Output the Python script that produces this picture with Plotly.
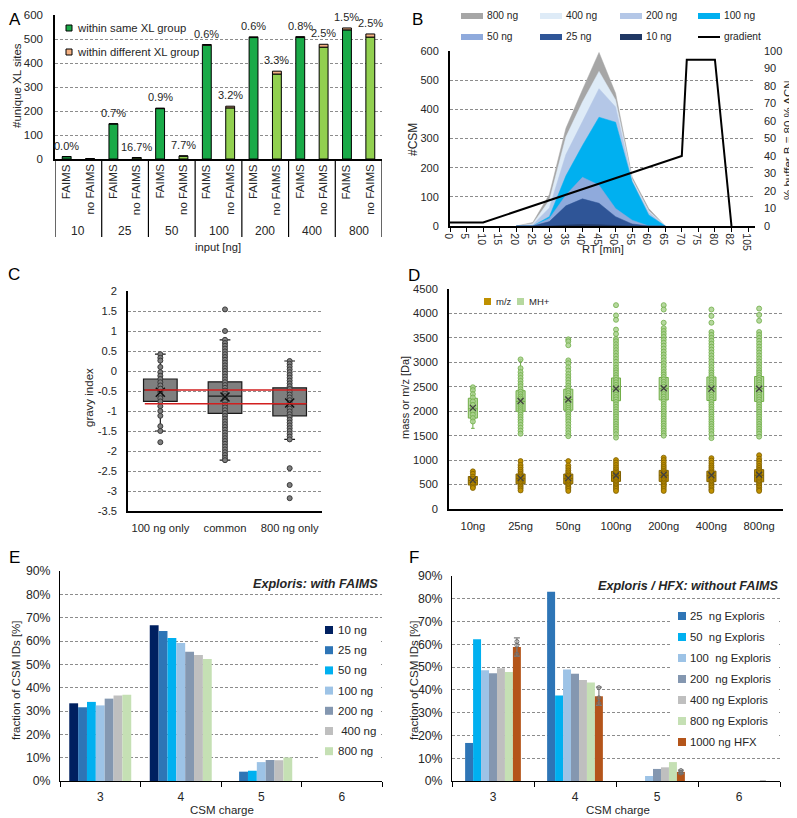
import plotly.graph_objects as go

FONT = "Liberation Sans, Arial, sans-serif"
OFF = 8                      # the html page places the figure 8 px from the window corner
W, H = 797 - OFF, 818 - OFF
TXT = "#262626"
GRID = "#8c8c8c"


def px_x(p):
    return (p - OFF) / W


def px_y(p):
    return 1 - (p - OFF) / H


# ---------------- Panel A data ----------------
a_inputs = ["10", "25", "50", "100", "200", "400", "800"]
a_methods = ["FAIMS", "no FAIMS"]
a_same_faims = [10, 146, 210, 474, 506, 506, 538]
a_diff_faims = [0, 1, 2, 3, 3, 4, 8]
a_same_nofaims = [1, 5, 12, 213, 354, 466, 508]
a_diff_nofaims = [0, 1, 1, 7, 12, 12, 13]
a_legend = ["within same XL group", "within different XL group"]
a_colors_method = ["#1AAA48", "#92D050"]
a_color_diff = "#F4B183"

# ---------------- Panel B data ----------------
b_rt = [20, 25, 30, 35, 40, 45, 50, 55, 60, 65]
b_series = ["800 ng", "400 ng", "200 ng", "100 ng", "50 ng", "25 ng", "10 ng"]
b_values = [
    [0, 12, 108, 335, 467, 595, 455, 168, 60, 0],
    [0, 8, 88, 305, 425, 530, 432, 160, 52, 0],
    [0, 4, 62, 245, 358, 471, 408, 155, 47, 0],
    [0, 0, 32, 172, 276, 373, 356, 152, 38, 0],
    [0, 0, 26, 106, 167, 140, 60, 20, 0, 0],
    [0, 0, 15, 69, 93, 78, 32, 7, 0, 0],
    [0, 0, 0, 3, 5, 4, 1, 0, 0, 0],
]
b_colors = ["#A6A6A6", "#DEEBF7", "#B4C7E7", "#00B0F0", "#8FAADC", "#2F5597", "#203864"]
b_tick_rt = [0, 5, 10, 15, 20, 25, 30, 35, 40, 45, 50, 55, 60, 65, 70, 75, 80, 82, 105]
b_grad_name = "gradient"
b_grad_rt = [0, 10, 70, 71.5, 80, 82]
b_grad_pct = [2, 2, 40, 95, 95, 0]

# ---------------- Panel C data ----------------
c_cats = ["100 ng only", "common", "800 ng only"]
c_q1 = [-0.76, -1.06, -1.12]
c_median = [-0.475, -0.63, -0.82]
c_q3 = [-0.2, -0.27, -0.42]
c_lower = [-1.5, -2.23, -1.71]
c_upper = [0.42, 0.78, 0.25]
c_mean = [-0.53, -0.65, -0.8]
c_ref_lines = [-0.475, -0.817]
c_pts = [
    [0.42, 0.33, 0.26, 0.1, -0.03, -0.12, -0.2, -0.28, -0.36, -0.44, -0.52, -0.6,
     -0.68, -0.76, -0.88, -1.0, -1.12, -1.38, -1.5, -1.78],
    [1.54, 1.0, 0.78, 0.7, 0.63, 0.56, 0.49, 0.42, 0.35, 0.28, 0.21, 0.14, 0.07, 0.0,
     -0.07, -0.14, -0.21, -0.28, -0.35, -0.42, -0.49, -0.56, -0.63, -0.7, -0.77, -0.84,
     -0.91, -0.98, -1.05, -1.12, -1.19, -1.26, -1.33, -1.4, -1.47, -1.54, -1.61, -1.68,
     -1.75, -1.82, -1.89, -1.96, -2.03, -2.1, -2.17, -2.23],
    [0.25, 0.18, 0.11, 0.04, -0.03, -0.1, -0.17, -0.24, -0.31, -0.38, -0.45, -0.52,
     -0.59, -0.66, -0.73, -0.8, -0.87, -0.94, -1.01, -1.08, -1.15, -1.22, -1.29, -1.36,
     -1.43, -1.5, -1.57, -1.64, -1.71, -2.43, -2.85, -3.18],
]
c_ticks = [2, 1.5, 1, 0.5, 0, -0.5, -1, -1.5, -2, -2.5, -3, -3.5]

# ---------------- Panel D data ----------------
d_cats = ["10ng", "25ng", "50ng", "100ng", "200ng", "400ng", "800ng"]
d_mh_q1 = [1860, 2000, 2020, 2215, 2230, 2220, 2200]
d_mh_median = [2050, 2200, 2240, 2450, 2460, 2460, 2460]
d_mh_q3 = [2265, 2420, 2450, 2680, 2690, 2700, 2710]
d_mh_lower = [1650, 1540, 1490, 1460, 1500, 1450, 1480]
d_mh_upper = [2490, 3060, 3050, 3480, 3700, 3620, 3620]
d_mh_mean = [2070, 2210, 2240, 2460, 2470, 2460, 2460]
d_mz_q1 = [490, 515, 515, 565, 565, 560, 555]
d_mz_median = [580, 620, 620, 680, 690, 680, 690]
d_mz_q3 = [665, 715, 715, 770, 790, 775, 805]
d_mz_lower = [430, 370, 370, 370, 370, 370, 370]
d_mz_upper = [770, 980, 980, 1000, 1050, 1040, 1100]
d_mz_mean = [590, 630, 630, 685, 700, 690, 700]
d_mh_pts = [
    [2490, 2430, 2350, 2280, 2200, 2130, 2060, 1990, 1930, 1860, 1790],
    [3060, 2880, 2800, 2740, 2680, 2620, 2560, 2510, 2450, 2400, 2350, 2300, 2260, 2220,
     2180, 2140, 2100, 2060, 2020, 1980, 1930, 1880, 1830, 1780, 1720, 1660, 1600, 1540],
    [3470, 3430, 3350, 3040, 2980, 2900, 2830, 2760, 2700, 2640, 2580, 2520, 2470, 2420,
     2370, 2320, 2270, 2230, 2190, 2150, 2110, 2070, 2030, 1990, 1940, 1890, 1840, 1790,
     1730, 1670, 1610, 1550, 1490],
    [4170, 3960, 3870, 3670, 3580, 3480, 3430, 3370, 3310, 3250, 3190, 3130, 3070, 3010,
     2950, 2890, 2840, 2790, 2740, 2690, 2640, 2590, 2540, 2490, 2440, 2390, 2340, 2290,
     2240, 2190, 2140, 2090, 2040, 1990, 1940, 1890, 1840, 1790, 1740, 1690, 1640, 1590,
     1530, 1460],
    [4170, 4080, 3810, 3700, 3640, 3580, 3520, 3460, 3400, 3340, 3280, 3220, 3160, 3100,
     3040, 2980, 2920, 2860, 2800, 2750, 2700, 2650, 2600, 2550, 2500, 2450, 2400, 2350,
     2300, 2250, 2200, 2150, 2100, 2050, 2000, 1950, 1900, 1850, 1800, 1750, 1700, 1650,
     1600, 1550, 1500],
    [4080, 3950, 3810, 3620, 3560, 3500, 3440, 3380, 3320, 3260, 3200, 3140, 3080, 3020,
     2960, 2900, 2840, 2790, 2740, 2690, 2640, 2590, 2540, 2490, 2440, 2390, 2340, 2290,
     2240, 2190, 2140, 2090, 2040, 1990, 1940, 1890, 1840, 1790, 1740, 1690, 1640, 1590,
     1530, 1450],
    [4100, 3970, 3850, 3620, 3560, 3500, 3440, 3380, 3320, 3260, 3200, 3140, 3080, 3020,
     2960, 2900, 2840, 2790, 2740, 2690, 2640, 2590, 2540, 2490, 2440, 2390, 2340, 2290,
     2240, 2190, 2140, 2090, 2040, 1990, 1940, 1890, 1840, 1790, 1740, 1690, 1640, 1590,
     1540, 1480],
]
d_mz_pts = [
    [770, 720, 660, 620, 580, 540, 500, 460, 430],
    [980, 900, 850, 800, 760, 720, 690, 660, 630, 600, 570, 540, 510, 480, 450, 420, 380],
    [980, 890, 840, 790, 750, 710, 680, 650, 620, 590, 560, 530, 500, 470, 440, 410, 370],
    [1000, 950, 900, 850, 810, 770, 740, 710, 680, 650, 620, 590, 560, 530, 500, 470,
     440, 410, 370],
    [1050, 1000, 950, 900, 860, 820, 780, 750, 720, 690, 660, 630, 600, 570, 540, 510,
     480, 450, 410, 370],
    [1040, 990, 940, 890, 850, 810, 770, 740, 710, 680, 650, 620, 590, 560, 530, 500,
     470, 440, 400, 370],
    [1100, 1030, 980, 930, 880, 840, 800, 770, 740, 710, 680, 650, 620, 590, 560, 530,
     500, 470, 440, 400, 370],
]

# ---------------- Panel E data ----------------
ef_charges = ["3", "4", "5", "6"]
e_series = ["10 ng", "25 ng", "50 ng", "100 ng", "200 ng", "\u00a0400 ng", "800 ng"]
e_values = [
    [33.3, 66.7, 0.0, 0.0],
    [31.6, 64.3, 4.0, 0.0],
    [33.9, 61.3, 4.4, 0.0],
    [32.4, 59.1, 8.1, 0.0],
    [35.3, 55.4, 9.0, 0.0],
    [36.6, 54.0, 8.9, 0.0],
    [37.0, 52.3, 10.1, 0.0],
]
e_colors = ["#002060", "#2E75B6", "#00B0F0", "#9DC3E6", "#8497B0", "#BFBFBF", "#C5E0B4"]

# ---------------- Panel F data ----------------
f_series = ["25\u00a0 ng Exploris", "50\u00a0 ng Exploris", "100\u00a0 ng Exploris",
            "200\u00a0 ng Exploris", "400 ng Exploris", "800 ng Exploris", "1000 ng HFX"]
f_values = [
    [16.7, 83.1, 0.0, 0.0],
    [62.2, 37.5, 0.0, 0.0],
    [48.6, 49.0, 2.2, 0.0],
    [47.3, 47.1, 5.3, 0.0],
    [49.5, 44.3, 6.0, 0.0],
    [47.9, 43.2, 8.3, 0.0],
    [58.8, 37.2, 4.0, 0.0],
]
f_hfx_err = [4.0, 4.0, 0.8, 0.0]
f_hfx_reps = [[61.2, 59.6, 55.6], [41.0, 36.5, 34.0], [4.6, 3.9, 3.5], []]
f_colors = ["#2E75B6", "#00B0F0", "#9DC3E6", "#8497B0", "#BFBFBF", "#C5E0B4", "#B4551A"]

fig = go.Figure()
annotations = []
shapes = []


def txt(x, y, s, size=12, angle=0, **kw):
    d = dict(x=px_x(x), y=px_y(y), xref="paper", yref="paper", text=s, showarrow=False,
             textangle=angle, xanchor="center", yanchor="middle",
             font=dict(size=size, color=TXT))
    d.update(kw)
    return d


def swatch(x0, x1, yc, h, color, border=None):
    shapes.append(dict(type="rect", xref="paper", yref="paper",
                       x0=px_x(x0), x1=px_x(x1), y0=px_y(yc + h / 2), y1=px_y(yc - h / 2),
                       fillcolor=color,
                       line=dict(color=border or color, width=1 if border else 0)))


# ================= Panel A =================
a_same, a_diff, a_col = [], [], []
for g in range(len(a_inputs)):
    a_same += [a_same_faims[g], a_same_nofaims[g]]
    a_diff += [a_diff_faims[g], a_diff_nofaims[g]]
    a_col += a_colors_method
a_x = list(range(len(a_same)))
a_total = [s + d for s, d in zip(a_same, a_diff)]

fig.add_trace(go.Bar(
    x=a_x, y=a_same, width=0.38, offset=-0.19,
    marker=dict(color=a_col, line=dict(color="black", width=1)),
    name=a_legend[0], xaxis="x", yaxis="y", hoverinfo="skip"))
fig.add_trace(go.Bar(
    x=a_x, y=a_diff, base=a_same, width=0.38, offset=-0.19,
    marker=dict(color=a_color_diff, line=dict(color="black", width=1)),
    name=a_legend[1], xaxis="x", yaxis="y", hoverinfo="skip"))

for i, (t, d) in enumerate(zip(a_total, a_diff)):
    if t < 2:
        continue
    annotations.append(dict(
        x=i, y=t, xref="x", yref="y", text=f"{100 * d / t:.1f}%", showarrow=False,
        xanchor="center", yanchor="bottom", yshift=3, font=dict(size=11, color=TXT)))
for i in a_x:
    annotations.append(dict(
        x=i, y=px_y(162), xref="x", yref="paper", text=a_methods[i % 2], textangle=-90,
        showarrow=False, yanchor="top", xanchor="center", font=dict(size=11.5, color=TXT)))
for g, lab in enumerate(a_inputs):
    annotations.append(dict(
        x=2 * g + 0.5, y=px_y(231), xref="x", yref="paper", text=lab, showarrow=False,
        xanchor="center", yanchor="middle", font=dict(size=12, color=TXT)))
for g in range(len(a_inputs) + 1):
    shapes.append(dict(type="line", xref="x", yref="paper", x0=2 * g - 0.5, x1=2 * g - 0.5,
                       y0=px_y(159), y1=px_y(237), line=dict(color="black", width=1.2)))
for k, (lab, col) in enumerate(zip(a_legend, [a_colors_method[0], a_color_diff])):
    yc = 28 + 24 * k
    swatch(66, 72, yc, 6, col, border="black")
    annotations.append(txt(75, yc, lab, 11.3, xanchor="left"))

# ================= Panel B =================


def rt_pos(rt):
    if rt <= 80:
        return rt / 5
    if rt <= 82:
        return 16 + (rt - 80) / 2
    return 17 + (rt - 82) / 23


for name, vals, col in zip(b_series, b_values, b_colors):
    fig.add_trace(go.Scatter(
        x=[rt_pos(r) for r in b_rt], y=vals, mode="lines", fill="tozeroy",
        fillcolor=col, line=dict(color=col, width=0.5), name=name,
        xaxis="x2", yaxis="y2", hoverinfo="skip"))
fig.add_trace(go.Scatter(
    x=[rt_pos(r) for r in b_grad_rt], y=b_grad_pct, mode="lines",
    line=dict(color="black", width=2), name=b_grad_name,
    xaxis="x2", yaxis="y3", hoverinfo="skip"))

b_leg_cols = [461, 540, 620, 698]
b_leg_rows = [16, 37]
b_items = list(zip(b_series, b_colors)) + [(b_grad_name, None)]
for k, (name, col) in enumerate(b_items):
    x0 = b_leg_cols[k % 4]
    yc = b_leg_rows[k // 4]
    if col is None:
        shapes.append(dict(type="line", xref="paper", yref="paper", x0=px_x(x0),
                           x1=px_x(x0 + 22), y0=px_y(yc), y1=px_y(yc),
                           line=dict(color="black", width=2)))
    else:
        swatch(x0, x0 + 22, yc, 6, col)
    annotations.append(txt(x0 + 24, yc, name, 10.2, xanchor="left"))

# ================= Panel C =================
fig.add_trace(go.Box(
    x=c_cats, q1=c_q1, median=c_median, q3=c_q3, lowerfence=c_lower,
    upperfence=c_upper, boxpoints=False, width=0.52, whiskerwidth=0.32,
    fillcolor="#7F7F7F", line=dict(color="#1a1a1a", width=1.2),
    xaxis="x3", yaxis="y4", hoverinfo="skip"))
for cat, pts in zip(c_cats, c_pts):
    fig.add_trace(go.Scatter(
        x=[cat] * len(pts), y=pts, mode="markers",
        marker=dict(size=5, color="#7F7F7F", line=dict(color="#3a3a3a", width=1)),
        xaxis="x3", yaxis="y4", hoverinfo="skip"))
fig.add_trace(go.Scatter(
    x=c_cats, y=c_mean, mode="markers",
    marker=dict(symbol="x-thin-open", size=9, color="#111",
                line=dict(color="#111", width=1.6)),
    xaxis="x3", yaxis="y4", hoverinfo="skip"))
for v in c_ref_lines:
    shapes.append(dict(type="line", xref="x3", yref="y4", x0=-0.24, x1=2.26, y0=v, y1=v,
                       line=dict(color="#D21F1F", width=1.5)))

# ================= Panel D =================
d_specs = [
    ("m/z", d_mz_q1, d_mz_median, d_mz_q3, d_mz_lower, d_mz_upper, d_mz_mean, d_mz_pts,
     "#BF9000", "#7F6000"),
    ("MH+", d_mh_q1, d_mh_median, d_mh_q3, d_mh_lower, d_mh_upper, d_mh_mean, d_mh_pts,
     "rgba(169,209,142,0.85)", "#70AD47"),
]
for name, q1, med, q3, lo, up, mean, pts, fc, lc in d_specs:
    fig.add_trace(go.Box(
        x=d_cats, q1=q1, median=med, q3=q3, lowerfence=lo, upperfence=up,
        boxpoints=False, width=0.19, whiskerwidth=0.4, fillcolor=fc,
        line=dict(color=lc, width=1), name=name,
        xaxis="x4", yaxis="y5", hoverinfo="skip"))
for name, q1, med, q3, lo, up, mean, pts, fc, lc in d_specs:
    for cat, p in zip(d_cats, pts):
        fig.add_trace(go.Scatter(
            x=[cat] * len(p), y=p, mode="markers",
            marker=dict(size=5, color=fc, line=dict(color=lc, width=0.8)),
            xaxis="x4", yaxis="y5", hoverinfo="skip"))
    fig.add_trace(go.Scatter(
        x=d_cats, y=mean, mode="markers",
        marker=dict(symbol="x-thin-open", size=6, color="#404040",
                    line=dict(color="#404040", width=1.2)),
        xaxis="x4", yaxis="y5", hoverinfo="skip"))
for (name, *_rest, fc, lc), x0 in zip(d_specs, [484, 517]):
    swatch(x0, x0 + 7, 301.5, 7, fc)
    annotations.append(txt(x0 + 10, 301.5, name, 9.5, xanchor="left"))

# ================= Panel E =================
e_group = 0.77
e_w = e_group / len(e_series)
ef_x = list(range(len(ef_charges)))
# white legend background (hides the gridlines like the original legend box)
shapes.append(dict(type="rect", xref="paper", yref="paper", x0=px_x(319), x1=px_x(381),
                   y0=px_y(762), y1=px_y(619), fillcolor="white", line=dict(width=0)))
for i, (name, vals, col) in enumerate(zip(e_series, e_values, e_colors)):
    fig.add_trace(go.Bar(
        x=ef_x, y=vals, width=e_w, offset=-e_group / 2 + i * e_w, name=name,
        marker=dict(color=col, line=dict(width=0)),
        xaxis="x5", yaxis="y6", hoverinfo="skip"))
    yc = 630 + 20.2 * i
    swatch(325, 333, yc, 8, col)
    annotations.append(txt(336, yc, name, 11.5, xanchor="left"))

# ================= Panel F =================
f_group = 0.68
f_w = f_group / len(f_series)
shapes.append(dict(type="rect", xref="paper", yref="paper", x0=px_x(672), x1=px_x(779),
                   y0=px_y(753), y1=px_y(604), fillcolor="white", line=dict(width=0)))
for i, (name, vals, col) in enumerate(zip(f_series, f_values, f_colors)):
    last = i == len(f_series) - 1
    fig.add_trace(go.Bar(
        x=ef_x, y=vals, width=f_w, offset=-f_group / 2 + i * f_w, name=name,
        marker=dict(color=col, line=dict(width=0)),
        error_y=dict(type="data", array=f_hfx_err, color="#7F7F7F", thickness=1.2,
                     width=3, visible=last),
        xaxis="x6", yaxis="y7", hoverinfo="skip"))
    yc = 616 + 21 * i
    swatch(678, 686, yc, 8, col)
    annotations.append(txt(688, yc, name, 11.3, xanchor="left"))
hfx_off = -f_group / 2 + (len(f_series) - 0.5) * f_w
rep_x, rep_y = [], []
for xi, reps in zip(ef_x, f_hfx_reps):
    for r in reps:
        rep_x.append(xi + hfx_off)
        rep_y.append(r)
fig.add_trace(go.Scatter(
    x=rep_x, y=rep_y, mode="markers",
    marker=dict(symbol="circle-open", size=4, color="#6f6f6f", line=dict(width=1)),
    xaxis="x6", yaxis="y7", hoverinfo="skip"))

# ================= titles =================
annotations += [
    txt(17, 86, "#unique XL sites", 11.5, -90),
    txt(218, 247, "input [ng]", 11.2),
    txt(413, 139, "#CSM", 12, -90),
    txt(788, 140, "% buffer B = 80 % ACN", 11.5, -90),
    txt(603, 249, "RT [min]", 11.2),
    txt(89, 398, "gravy index", 11.5, -90),
    txt(405, 398, "mass or m/z [Da]", 11, -90),
    txt(16, 680, "fraction of CSM IDs [%]", 11.5, -90),
    txt(414, 680, "fraction of CSM IDs [%]", 11.5, -90),
    txt(222, 810, "CSM charge", 11.5),
    txt(618, 810, "CSM charge", 11.5),
    txt(380, 584, "<b><i>Exploris: with FAIMS</i></b>", 12.6, xanchor="right"),
    txt(780, 586, "<b><i>Exploris / HFX: without FAIMS</i></b>", 12.6, xanchor="right"),
]
for lab, (x, y) in zip("ABCDEF", [(15, 19), (417, 19), (14, 274), (414, 276), (14, 557), (414, 557)]):
    annotations.append(txt(x, y, lab, 17, font=dict(size=17, color="black")))

# ================= layout =================
common_y = dict(showgrid=True, gridcolor=GRID, griddash="3px,2px", gridwidth=1,
                zeroline=False, showline=True, linecolor="black", linewidth=1.5,
                ticks="", tickfont=dict(size=11, color=TXT), automargin=False,
                ticklabeloverflow="allow")
common_x = dict(showgrid=False, zeroline=False, showline=True, linecolor="black",
                linewidth=1.5, automargin=False)

fig.update_layout(
    template="none",
    width=W, height=H, margin=dict(l=0, r=0, t=0, b=0, autoexpand=False),
    plot_bgcolor="white", paper_bgcolor="white",
    font=dict(family=FONT, color=TXT),
    barmode="group", boxmode="overlay", showlegend=False,
    annotations=annotations, shapes=shapes,
    # A
    xaxis=dict(common_x, domain=[px_x(55), px_x(382)], range=[-0.5, 13.5],
               showticklabels=False, ticks="", anchor="y"),
    yaxis=dict(common_y, domain=[px_y(159), px_y(15)], range=[0, 600], dtick=100,
               tickfont=dict(size=11.5, color=TXT), ticklabelstandoff=8, anchor="x"),
    # B
    xaxis2=dict(common_x, domain=[px_x(450), px_x(755)], range=[0, 18.42],
                tickvals=[rt_pos(t) for t in b_tick_rt], ticktext=[str(t) for t in b_tick_rt],
                ticks="outside", ticklen=4, tickcolor="black", linewidth=2,
                tickfont=dict(size=10.5, color=TXT), ticklabelstandoff=-6, anchor="y2"),
    yaxis2=dict(common_y, domain=[px_y(226), px_y(51)], range=[0, 600], dtick=100,
                linewidth=2, tickfont=dict(size=11, color=TXT), ticklabelstandoff=7,
                anchor="x2"),
    yaxis3=dict(domain=[px_y(226), px_y(51)], range=[0, 100], dtick=10, overlaying="y2",
                side="right", anchor="x2", showgrid=False, zeroline=False, showline=False,
                ticks="", automargin=False,
                tickfont=dict(size=11, color=TXT), ticklabelstandoff=8),
    # C
    xaxis3=dict(common_x, domain=[px_x(128), px_x(322)], range=[-0.5, 2.5],
                type="category", ticks="", tickfont=dict(size=11.2, color=TXT),
                ticklabelstandoff=6, anchor="y4"),
    yaxis4=dict(common_y, domain=[px_y(511), px_y(291)], range=[-3.5, 2],
                tickvals=c_ticks, ticktext=[f"{v:g}" for v in c_ticks],
                tickfont=dict(size=11.2, color=TXT), ticklabelstandoff=7, anchor="x3"),
    # D
    xaxis4=dict(common_x, domain=[px_x(449), px_x(783)], range=[-0.5, 6.5],
                type="category", ticks="", tickfont=dict(size=11.2, color=TXT),
                ticklabelstandoff=6, anchor="y5"),
    yaxis5=dict(common_y, domain=[px_y(509), px_y(289)], range=[0, 4500], dtick=500,
                tickfont=dict(size=11.2, color=TXT), ticklabelstandoff=7, anchor="x4"),
    # E
    xaxis5=dict(common_x, domain=[px_x(60), px_x(382)], range=[-0.5, 3.5],
                tickvals=ef_x, ticktext=ef_charges, ticks="", linewidth=1,
                tickfont=dict(size=12, color=TXT), ticklabelstandoff=5,
                minor=dict(tickvals=[-0.5, 0.5, 1.5, 2.5, 3.5], ticks="outside",
                           ticklen=5, tickcolor="black", showgrid=False),
                anchor="y6"),
    yaxis6=dict(common_y, domain=[px_y(781), px_y(571)], range=[0, 90], dtick=10,
                ticksuffix="%", linewidth=1, tickfont=dict(size=12.3, color=TXT),
                ticklabelstandoff=6, anchor="x5"),
    # F
    xaxis6=dict(common_x, domain=[px_x(452), px_x(780)], range=[-0.5, 3.5],
                tickvals=ef_x, ticktext=ef_charges, ticks="", linewidth=1,
                tickfont=dict(size=12, color=TXT), ticklabelstandoff=5,
                minor=dict(tickvals=[-0.5, 0.5, 1.5, 2.5, 3.5], ticks="outside",
                           ticklen=5, tickcolor="black", showgrid=False),
                anchor="y7"),
    yaxis7=dict(common_y, domain=[px_y(781), px_y(576)], range=[0, 90], dtick=10,
                ticksuffix="%", linewidth=1, tickfont=dict(size=12.3, color=TXT),
                ticklabelstandoff=6, anchor="x6"),
)

fig.write_html("out.html")
